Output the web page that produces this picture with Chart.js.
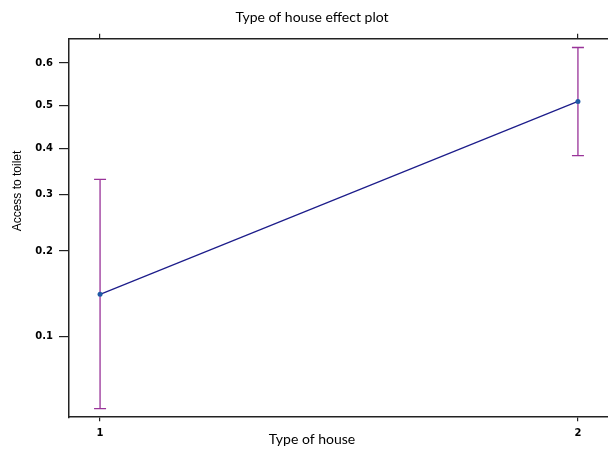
<!DOCTYPE html>
<html>
<head>
<meta charset="utf-8">
<script src="https://cdn.jsdelivr.net/npm/chart.js@4.4.1/dist/chart.umd.min.js"></script>
<style>
  html, body { margin: 0; padding: 0; background: #fff; overflow: hidden; }
  canvas { display: block; }
</style>
</head>
<body>
<canvas id="effectChart" width="624" height="453"></canvas>
<script>
// Type of house effect plot (logit scale)
const houseTypes = [1, 2];
const fitProb = [0.142, 0.510];
const lowerProb = [0.0527, 0.383];
const upperProb = [0.331, 0.635];
const probTicks = [0.1, 0.2, 0.3, 0.4, 0.5, 0.6];
const probRange = [0.0488, 0.654];
const xRange = [0.935, 2.065];

const logit = p => Math.log(p / (1 - p));
const invLogit = v => 1 / (1 + Math.exp(-v));

// error bars drawn through the chart scales
const errorBars = {
  id: 'errorBars',
  beforeDatasetsDraw(chart) {
    const { ctx, scales: { x, y } } = chart;
    ctx.save();
    ctx.strokeStyle = '#993399';
    ctx.lineWidth = 1.3;
    houseTypes.forEach((h, i) => {
      const px = x.getPixelForValue(h);
      const top = y.getPixelForValue(logit(upperProb[i]));
      const bot = y.getPixelForValue(logit(lowerProb[i]));
      ctx.beginPath();
      ctx.moveTo(px, top); ctx.lineTo(px, bot);
      ctx.moveTo(px - 6, top); ctx.lineTo(px + 6, top);
      ctx.moveTo(px - 6, bot); ctx.lineTo(px + 6, bot);
      ctx.stroke();
    });
    ctx.restore();
  }
};

// y axis title, placed like the original
const yTitle = {
  id: 'yTitle',
  afterDraw(chart) {
    const ctx = chart.ctx;
    ctx.save();
    ctx.translate(18, 191);
    ctx.rotate(-Math.PI / 2);
    ctx.fillStyle = '#000';
    ctx.font = '12px "Liberation Sans", Arial, sans-serif';
    ctx.textAlign = 'center';
    ctx.textBaseline = 'middle';
    ctx.fillText('Access to toilet', 0, 0);
    ctx.restore();
  }
};

const tickFont = { family: 'DejaVu Sans', size: 10, weight: 'bold' };
const axisColor = '#222';

new Chart(document.getElementById('effectChart'), {
  type: 'scatter',
  data: {
    datasets: [{
      data: houseTypes.map((h, i) => ({ x: h, y: logit(fitProb[i]) })),
      showLine: true,
      borderColor: '#1c1c8a',
      borderWidth: 1.2,
      pointRadius: 2.5,
      pointBackgroundColor: '#1f5aa6',
      pointBorderWidth: 0
    }]
  },
  options: {
    responsive: false,
    animation: false,
    layout: { padding: 0 },
    plugins: {
      legend: { display: false },
      tooltip: { enabled: false },
      title: {
        display: true,
        text: 'Type of house effect plot',
        color: '#000',
        font: { family: 'Lato', size: 14, weight: 'normal' },
        padding: { top: 9, bottom: 0 }
      },
      subtitle: {
        display: true,
        position: 'bottom',
        text: 'Type of house',
        color: '#000',
        font: { family: 'Lato', size: 14, weight: 'normal' },
        padding: { top: -8, bottom: 5 }
      }
    },
    scales: {
      x: {
        type: 'linear',
        position: 'bottom',
        min: xRange[0],
        max: xRange[1],
        afterBuildTicks: s => { s.ticks = houseTypes.map(v => ({ value: v })); },
        afterFit: s => { s.height = 22; },
        grid: { drawOnChartArea: false, drawTicks: true, tickLength: 4, color: axisColor, lineWidth: 1.2 },
        border: { display: true, color: axisColor, width: 1.5 },
        ticks: { color: '#000', font: tickFont, padding: 6, callback: v => String(v) }
      },
      x2: {
        type: 'linear',
        position: 'top',
        min: xRange[0],
        max: xRange[1],
        afterBuildTicks: s => { s.ticks = houseTypes.map(v => ({ value: v })); },
        afterFit: s => { s.height = 13; },
        grid: { drawOnChartArea: false, drawTicks: true, tickLength: 5, color: axisColor, lineWidth: 1.2 },
        border: { display: true, color: axisColor, width: 1.5 },
        ticks: { display: false }
      },
      y: {
        type: 'linear',
        position: 'left',
        min: logit(probRange[0]),
        max: logit(probRange[1]),
        afterBuildTicks: s => { s.ticks = probTicks.map(p => ({ value: logit(p) })); },
        afterFit: s => { s.width = 69; },
        grid: { drawOnChartArea: false, drawTicks: true, tickLength: 10, color: axisColor, lineWidth: 1.2 },
        border: { display: true, color: axisColor, width: 1.5 },
        ticks: { color: '#000', font: tickFont, padding: 6, callback: v => invLogit(v).toFixed(1) }
      },
      y2: {
        type: 'linear',
        position: 'right',
        min: logit(probRange[0]),
        max: logit(probRange[1]),
        afterFit: s => { s.width = 15; },
        grid: { display: false },
        border: { display: false },
        ticks: { display: false }
      }
    }
  },
  plugins: [errorBars, yTitle]
});
</script>
</body>
</html>
